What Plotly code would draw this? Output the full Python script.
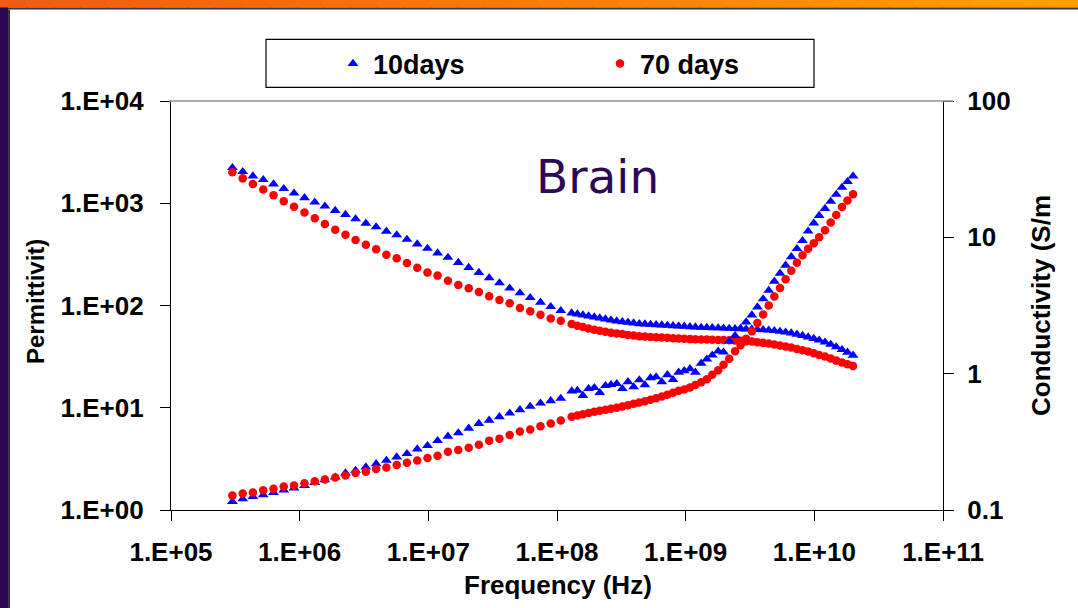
import plotly.graph_objects as go

# ---------------- data ----------------
freq_low = [3.00e5, 3.61e5, 4.33e5, 5.21e5, 6.26e5, 7.52e5, 9.04e5, 1.09e6, 1.31e6, 1.57e6,
            1.89e6, 2.27e6, 2.72e6, 3.27e6, 3.93e6, 4.72e6, 5.68e6, 6.82e6, 8.20e6, 9.85e6,
            1.18e7, 1.42e7, 1.71e7, 2.06e7, 2.47e7, 2.97e7, 3.57e7, 4.29e7, 5.15e7, 6.19e7,
            7.44e7, 8.94e7, 1.07e8]
freq_high = [1.30e8, 1.44e8, 1.59e8, 1.76e8, 1.95e8, 2.15e8, 2.38e8, 2.63e8, 2.91e8, 3.22e8,
             3.56e8, 3.94e8, 4.36e8, 4.82e8, 5.33e8, 5.89e8, 6.52e8, 7.21e8, 7.97e8, 8.82e8,
             9.75e8, 1.08e9, 1.19e9, 1.32e9, 1.46e9, 1.61e9, 1.79e9, 1.97e9, 2.18e9, 2.42e9,
             2.67e9, 2.95e9, 3.27e9, 3.61e9, 4.00e9, 4.42e9, 4.89e9, 5.41e9, 5.98e9, 6.62e9,
             7.32e9, 8.09e9, 8.95e9, 9.90e9, 1.09e10, 1.21e10, 1.34e10, 1.48e10, 1.64e10, 1.81e10,
             2.00e10]

perm_10d_low = [2230, 2038, 1845, 1700, 1539, 1387, 1256, 1131, 1024, 935, 848, 775, 703, 637,
                587, 531, 490, 443, 399, 361, 326, 295, 263, 235, 210, 186, 166, 147.6, 132.7,
                119.3, 107.5, 97.3, 88.9]
perm_70d_low = [2005, 1751, 1539, 1365, 1200, 1047, 923, 811, 713, 628, 552, 493, 437, 393, 354,
                314, 290, 260, 234, 210, 196, 175, 159, 147.6, 135.7, 123.1, 113.2, 105.1, 94.5,
                87.7, 81.2, 74.8, 70.9]
cond_10d_low = [0.1151, 0.1206, 0.1253, 0.1290, 0.1342, 0.1398, 0.1445, 0.1510, 0.1589, 0.1664,
                0.1742, 0.1865, 0.1949, 0.2064, 0.2183, 0.2309, 0.2446, 0.2587, 0.2802, 0.2963,
                0.3227, 0.3470, 0.3676, 0.3975, 0.4305, 0.4553, 0.4824, 0.5128, 0.5433, 0.5745,
                0.6076, 0.6328, 0.6579]
cond_70d_low = [0.1275, 0.1319, 0.1342, 0.1398, 0.1429, 0.1485, 0.1510, 0.1573, 0.1627, 0.1673,
                0.1731, 0.1790, 0.1865, 0.1906, 0.1996, 0.2050, 0.2136, 0.2220, 0.2309, 0.2405,
                0.2500, 0.2677, 0.2755, 0.2865, 0.3014, 0.3227, 0.3338, 0.3553, 0.3758, 0.3888,
                0.4112, 0.4305, 0.4530]

perm_10d_high = [84.4, 82.5, 80.6, 78.9, 77.1, 75.4, 73.7, 72.0, 70.4, 69.3, 68.4, 67.3, 66.2,
                 65.8, 65.3, 64.8, 64.3, 63.9, 63.3, 62.9, 62.5, 61.9, 61.5, 61.1, 60.8, 60.5,
                 60.3, 60.0, 59.7, 59.4, 59.2, 58.9, 58.6, 58.2, 57.8, 57.3, 56.7, 55.8, 54.8,
                 53.7, 52.3, 50.8, 49.1, 47.5, 45.8, 43.8, 41.6, 39.3, 37.0, 34.8, 32.6]
perm_70d_high = [65.8, 63.3, 61.5, 59.7, 57.8, 56.5, 55.3, 54.0, 53.3, 52.5, 51.6, 50.9, 50.1,
                 49.8, 49.3, 49.0, 48.7, 48.3, 47.9, 47.6, 47.2, 46.9, 46.7, 46.5, 46.5, 46.3,
                 46.1, 46.0, 45.8, 45.5, 45.1, 44.8, 44.5, 43.8, 43.1, 42.5, 41.6, 40.6, 39.7,
                 38.8, 37.6, 36.5, 35.5, 34.1, 32.8, 31.7, 30.3, 28.9, 27.7, 26.6, 25.6]
cond_10d_high = [0.7447, 0.7537, 0.6903, 0.7757, 0.7890, 0.7249, 0.8163, 0.8303, 0.8445, 0.7757,
                 0.8708, 0.7985, 0.8992, 0.8260, 0.9318, 0.9462, 0.8692, 0.9806, 0.9039, 1.023,
                 1.049, 1.086, 1.023, 1.192, 1.276, 1.365, 1.461, 1.436, 1.731, 1.900,
                 2.140, 2.390, 2.692, 3.083, 3.532, 4.079, 4.753, 5.444, 6.235, 7.202,
                 8.252, 9.452, 11.10, 12.72, 14.44, 16.27, 18.32, 20.63, 23.23, 25.60, 28.14]
cond_70d_high = [0.4824, 0.4931, 0.5041, 0.5145, 0.5250, 0.5340, 0.5433, 0.5525, 0.5620, 0.5745,
                 0.5873, 0.6014, 0.6149, 0.6286, 0.6437, 0.6614, 0.6808, 0.7008, 0.7249, 0.7499,
                 0.7667, 0.7930, 0.8273, 0.8635, 0.9085, 0.9806, 1.058, 1.162, 1.286, 1.461,
                 1.618, 1.806, 2.051, 2.350, 2.715, 3.162, 3.685, 4.256, 4.917, 5.679,
                 6.507, 7.389, 8.252, 9.058, 10.03, 11.29, 12.83, 14.57, 16.69, 18.63, 20.74]

series_names = ["10days", "70 days"]

x_tickvals = [1e5, 1e6, 1e7, 1e8, 1e9, 1e10, 1e11]
x_ticktext = ["1.E+05", "1.E+06", "1.E+07", "1.E+08", "1.E+09", "1.E+10", "1.E+11"]
y_tickvals = [1, 10, 100, 1000, 10000]
y_ticktext = ["1.E+00", "1.E+01", "1.E+02", "1.E+03", "1.E+04"]
y2_tickvals = [0.1, 1, 10, 100]
y2_ticktext = ["0.1", "1", "10", "100"]

freq = freq_low + freq_high
perm_10d = perm_10d_low + perm_10d_high
perm_70d = perm_70d_low + perm_70d_high
cond_10d = cond_10d_low + cond_10d_high
cond_70d = cond_70d_low + cond_70d_high

# ---------------- layout geometry ----------------
W, H = 1078, 608
ML, MR, MT, MB = 171, 135, 101, 98
PW, PH = W - ML - MR, H - MT - MB


def px(x):
    return (x - ML) / PW


def py(y):
    return (H - MB - y) / PH


BLUE = "#0000FF"
RED = "#FF0000"
PURPLE = "#2D0854"
FONT = "Liberation Sans, Arial, sans-serif"

fig = go.Figure()
fig.add_trace(go.Scatter(x=freq, y=perm_10d, mode="markers", name=series_names[0],
                         legendgroup="a",
                         marker=dict(symbol="triangle-up", size=9.5, color=BLUE, line=dict(width=0))))
fig.add_trace(go.Scatter(x=freq, y=perm_70d, mode="markers", name=series_names[1],
                         legendgroup="b",
                         marker=dict(symbol="circle", size=8.5, color=RED, line=dict(width=0))))
fig.add_trace(go.Scatter(x=freq, y=cond_10d, mode="markers", name=series_names[0], yaxis="y2",
                         legendgroup="a", showlegend=False,
                         marker=dict(symbol="triangle-up", size=9.5, color=BLUE, line=dict(width=0))))
fig.add_trace(go.Scatter(x=freq, y=cond_70d, mode="markers", name=series_names[1], yaxis="y2",
                         legendgroup="b", showlegend=False,
                         marker=dict(symbol="circle", size=8.5, color=RED, line=dict(width=0))))

tickfont = dict(family=FONT, size=26, color="black", weight="bold")

shapes = []
# top orange gradient bar
n = 40
c0 = (242, 90, 20)
c1 = (255, 160, 0)
for i in range(n):
    t = i / (n - 1)
    col = "rgb(%d,%d,%d)" % tuple(round(c0[j] + (c1[j] - c0[j]) * t) for j in range(3))
    shapes.append(dict(type="rect", xref="paper", yref="paper",
                       x0=px(i * W / n - 1), x1=px((i + 1) * W / n + 1),
                       y0=py(7.5), y1=py(-2), fillcolor=col, line=dict(width=0), layer="above"))
shapes.append(dict(type="rect", xref="paper", yref="paper", x0=px(-2), x1=px(W + 2),
                   y0=py(9.5), y1=py(7.5), fillcolor="#3a3a3a", line=dict(width=0)))
# left purple bar
shapes.append(dict(type="rect", xref="paper", yref="paper", x0=px(-2), x1=px(8),
                   y0=py(H + 2), y1=py(7.5), fillcolor=PURPLE, line=dict(width=0)))
shapes.append(dict(type="rect", xref="paper", yref="paper", x0=px(8), x1=px(10),
                   y0=py(H + 2), y1=py(9.5), fillcolor="#3a3a3a", line=dict(width=0)))
# top plot border (grey)
shapes.append(dict(type="line", xref="paper", yref="paper", x0=px(169), x1=px(953),
                   y0=1, y1=1, line=dict(color="#909090", width=1.5)))
# legend box
shapes.append(dict(type="rect", xref="paper", yref="paper", x0=px(266), x1=px(814),
                   y0=py(87.3), y1=py(39.3), line=dict(color="black", width=1.2),
                   fillcolor="rgba(0,0,0,0)"))

annotations = [
    dict(text="Brain", xref="paper", yref="paper", x=px(597), y=py(176), xanchor="center",
         yanchor="middle", showarrow=False,
         font=dict(family="DejaVu Sans, sans-serif", size=47, color=PURPLE)),
    dict(text="Frequency (Hz)", xref="paper", yref="paper", x=px(558), y=py(585),
         xanchor="center", yanchor="middle", showarrow=False,
         font=dict(family=FONT, size=26, color="black", weight="bold")),
    dict(text="Permittivit)", xref="paper", yref="paper", x=px(35), y=py(302),
         xanchor="center", yanchor="middle", showarrow=False, textangle=-90,
         font=dict(family=FONT, size=24, color="black", weight="bold")),
    dict(text="Conductivity (S/m", xref="paper", yref="paper", x=px(1041), y=py(306),
         xanchor="center", yanchor="middle", showarrow=False, textangle=-90,
         font=dict(family=FONT, size=26, color="black", weight="bold")),
]

fig.update_layout(
    width=W, height=H,
    margin=dict(l=ML, r=MR, t=MT, b=MB, pad=0),
    paper_bgcolor="white", plot_bgcolor="white",
    showlegend=True,
    legend=dict(orientation="h", x=px(333), y=py(64), xanchor="left", yanchor="middle",
                bgcolor="rgba(0,0,0,0)", borderwidth=0,
                font=dict(family=FONT, size=27, color="black", weight="bold"),
                entrywidthmode="pixels", entrywidth=222, traceorder="normal"),
    xaxis=dict(type="log", range=[5, 11], tickvals=x_tickvals, ticktext=x_ticktext,
               showgrid=False, zeroline=False, showline=True, linecolor="black", linewidth=1.3,
               ticks="outside", ticklen=10, tickcolor="black", tickwidth=1.3,
               tickfont=tickfont, ticklabelstandoff=9),
    yaxis=dict(type="log", range=[0, 4], tickvals=y_tickvals, ticktext=y_ticktext,
               showgrid=False, zeroline=False, showline=True, linecolor="black", linewidth=1.3,
               ticks="outside", ticklen=10, tickcolor="black", tickwidth=1.3,
               tickfont=tickfont, ticklabelstandoff=11),
    yaxis2=dict(type="log", range=[-1, 2], tickvals=y2_tickvals, ticktext=y2_ticktext,
                overlaying="y", side="right", anchor="x",
                showgrid=False, zeroline=False, showline=True, linecolor="black", linewidth=1.3,
                ticks="outside", ticklen=10, tickcolor="black", tickwidth=1.3,
                tickfont=tickfont, ticklabelstandoff=8),
    yaxis3=dict(type="log", range=[-1, 2], tickvals=y2_tickvals, overlaying="y", side="right",
                anchor="x", showgrid=False, zeroline=False, showline=False,
                ticks="inside", ticklen=10, tickcolor="black", tickwidth=1.3,
                showticklabels=False),
    shapes=shapes,
    annotations=annotations,
)

fig.write_html("out.html", config={"displayModeBar": False},
               post_script="document.body.style.margin='0';")
